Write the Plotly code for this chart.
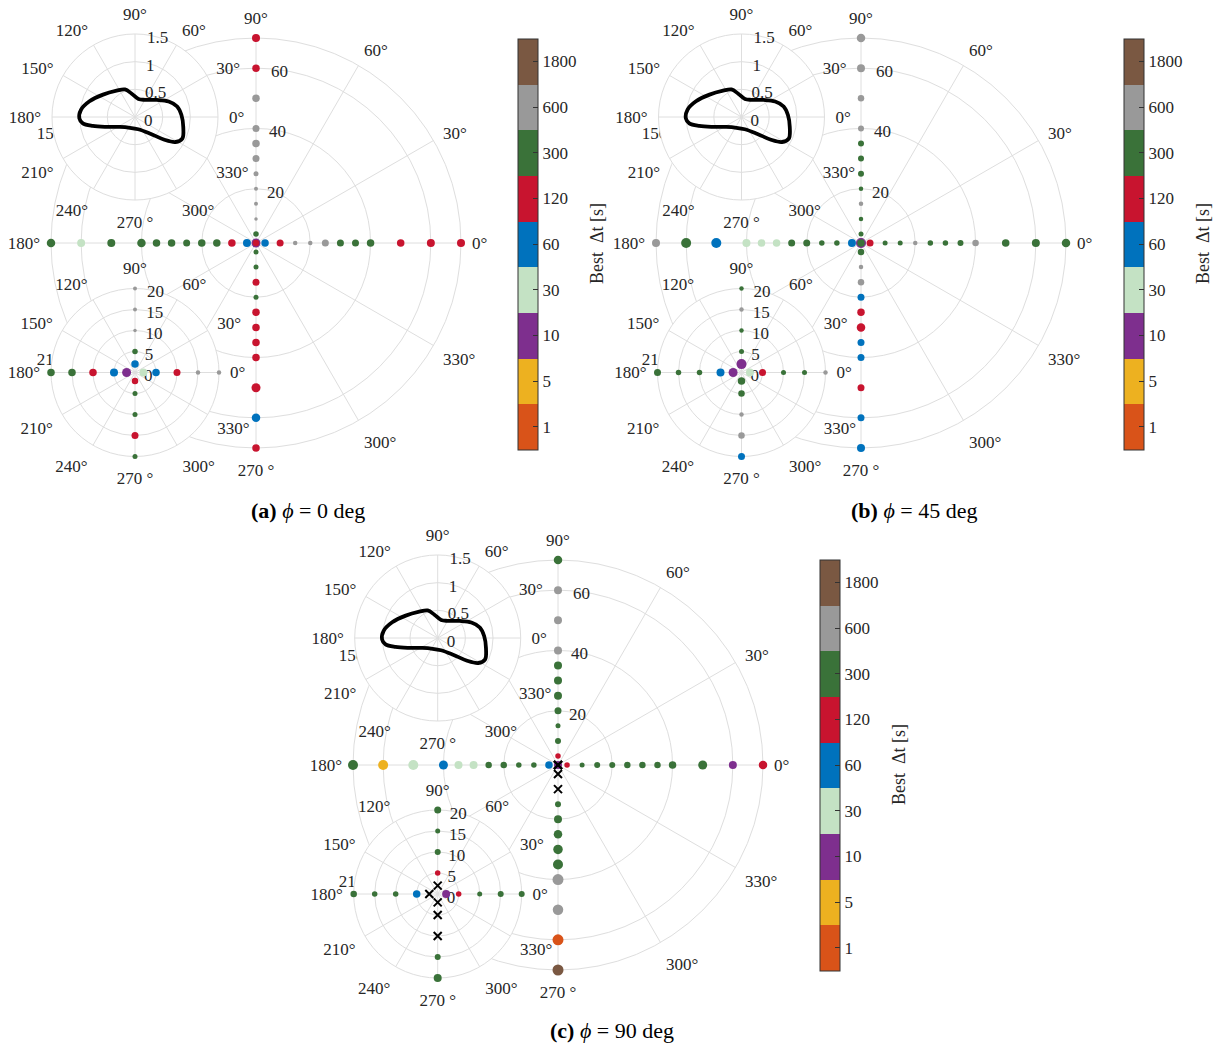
import plotly.graph_objects as go

W, H = 1225, 1046
FONT = "Liberation Serif"
TXT = "#262626"
GRID = "#dedede"

# ---- best time step classes (colour bar) ----
dt_labels = ["1", "5", "10", "30", "60", "120", "300", "600", "1800"]
dt_colors = ["#D95319", "#EDB120", "#7E2F8E", "#C4E2C4", "#0072BD",
             "#C8142F", "#3A7239", "#999999", "#7A5842"]

# radial stations shared by every direction
radii = [2, 5, 10, 15, 20, 25, 30, 35, 40, 50, 60, 70]

# class index per station (None = no successful run, drawn as a cross)
# and marker diameter, for the four directions up/right/left/down
a_up_cls = [4, 6, 7, 7, 7, 7, 7, 7, 7, 7, 5, 5]
a_up_size = [7.5, 5.5, 3.5, 4, 4, 5, 7, 7.5, 7, 7.5, 7.5, 8]
a_right_cls = [3, 4, 5, 7, 7, 7, 6, 6, 6, 5, 5, 5]
a_right_size = [8, 7.5, 7, 4.5, 4.5, 7, 7, 7, 7.5, 7.5, 8, 8]
a_left_cls = [2, 4, 5, 6, 6, 6, 6, 6, 6, 6, 3, 6]
a_left_size = [9, 8, 7.5, 7.5, 7.5, 7, 7.5, 7.5, 8.5, 8, 8, 8.5]
a_down_cls = [5, 6, 6, 5, 6, 5, 5, 5, 5, 5, 4, 5]
a_down_size = [6.5, 5, 5, 7, 5, 7.5, 7.5, 7.5, 7.5, 9, 8.5, 7.5]

b_up_cls = [2, 6, 6, 7, 6, 6, 6, 6, 7, 7, 7, 7]
b_up_size = [10, 5, 4.5, 4.5, 4.5, 6, 6, 6, 6, 6.5, 8, 8.5]
b_right_cls = [3, 5, 6, 6, 7, 6, 6, 6, 7, 6, 6, 6]
b_right_size = [8, 7, 5, 5, 4.5, 5.5, 5.5, 6, 6.5, 7.5, 8, 8.5]
b_left_cls = [2, 4, 6, 6, 6, 6, 3, 3, 3, 4, 6, 7]
b_left_size = [9, 8, 5.5, 5.5, 7, 7, 7.5, 7.5, 8, 10, 10, 8]
b_down_cls = [6, 6, 7, 7, 4, 5, 5, 4, 4, 5, 4, 4]
b_down_size = [7.5, 6.5, 4.5, 6.5, 7, 7.5, 8.5, 7, 7, 7, 7, 8]

c_up_cls = [None, 5, 6, 6, 6, 6, 6, 6, 7, 7, 7, 6]
c_up_size = [0, 5.5, 6, 5, 7, 8, 8, 8, 8, 8, 8, 8.5]
c_right_cls = [2, 5, 6, 6, 6, 6, 6, 6, 6, 6, 2, 5]
c_right_size = [8, 5.5, 5, 6, 6, 6.5, 6.5, 6.5, 7.5, 9, 8, 8.5]
c_left_cls = [None, 4, 6, 6, 6, 6, 3, 3, 4, 3, 1, 6]
c_left_size = [0, 7.5, 5.5, 5.5, 6.5, 6.5, 8, 8, 9, 10, 10, 10]
c_down_cls = [None, None, None, 6, 6, 6, 6, 6, 7, 7, 0, 8]
c_down_size = [0, 0, 0, 6, 8, 8.5, 9.5, 10, 11, 10.5, 11, 11]

# cross-section outline (same for all three cases)
curve_theta = [2.5, 14, 24.7, 38, 59.5, 79, 98, 110, 125, 145, 161, 172.5,
               181.4, 187, 192, 199, 213, 245, 285, 312.6, 322, 328.3, 335.4, 348.5]
curve_r = [0.84, 0.785, 0.67, 0.50, 0.36, 0.33, 0.425, 0.53, 0.58, 0.705, 0.87, 0.985,
           1.006, 0.95, 0.78, 0.55, 0.33, 0.215, 0.23, 0.41, 0.66, 0.86, 0.94, 0.89]

ang_ticks = list(range(0, 360, 30))
ang_text = [("270 °" if a == 270 else f"{a}°") for a in ang_ticks]

directions = [("up", 90), ("right", 0), ("left", 180), ("down", 270)]

panels = {
    "a": dict(cls={"up": a_up_cls, "right": a_right_cls, "left": a_left_cls, "down": a_down_cls},
              size={"up": a_up_size, "right": a_right_size, "left": a_left_size, "down": a_down_size},
              big=(256, 243), top=(135, 117), bot=(135, 372.5), cbar=(517.5, 244), cb_title_x=597,
              caption="<b>(a)</b> <i>ϕ</i> = 0 deg", cap_xy=(308, 510)),
    "b": dict(cls={"up": b_up_cls, "right": b_right_cls, "left": b_left_cls, "down": b_down_cls},
              size={"up": b_up_size, "right": b_right_size, "left": b_left_size, "down": b_down_size},
              big=(861, 243), top=(741.5, 117), bot=(741.5, 372.5), cbar=(1124, 244), cb_title_x=1203,
              caption="<b>(b)</b> <i>ϕ</i> = 45 deg", cap_xy=(914, 510)),
    "c": dict(cls={"up": c_up_cls, "right": c_right_cls, "left": c_left_cls, "down": c_down_cls},
              size={"up": c_up_size, "right": c_right_size, "left": c_left_size, "down": c_down_size},
              big=(558, 765), top=(437.7, 638), bot=(437.7, 894), cbar=(820, 765), cb_title_x=899,
              caption="<b>(c)</b> <i>ϕ</i> = 90 deg", cap_xy=(612, 1030)),
}

R_BIG, R_TOP, R_BOT = 205, 83, 84
R_LABEL_ANGLE = 88  # direction along which the radial tick labels sit

# stepped colour scale, one band per class
n = len(dt_colors)
cscale = []
for k, col in enumerate(dt_colors):
    cscale.append([k / n, col])
    cscale.append([(k + 1) / n, col])


def domain(center, R):
    cx, cy = center
    return dict(x=[(cx - R) / W, (cx + R) / W], y=[1 - (cy + R) / H, 1 - (cy - R) / H])


def polar_layout(center, R, rng, tickvals, ticktext):
    tf = dict(family=FONT, size=17, color=TXT)
    return dict(
        domain=domain(center, R),
        bgcolor="white",
        angularaxis=dict(rotation=0, direction="counterclockwise", tickmode="array",
                         tickvals=ang_ticks, ticktext=ang_text,
                         ticks="outside", ticklen=7, tickcolor="rgba(0,0,0,0)",
                         showline=True, linecolor=GRID, linewidth=1, layer="below traces",
                         showgrid=True, gridcolor=GRID, gridwidth=1, tickfont=tf),
        radialaxis=dict(range=rng, angle=R_LABEL_ANGLE, tickangle=R_LABEL_ANGLE,
                        tickmode="array", tickvals=tickvals, ticktext=ticktext, ticks="",
                        showline=False, showgrid=True, gridcolor=GRID, gridwidth=1,
                        layer="below traces", tickfont=tf),
    )


fig = go.Figure()
layout_polars = {}
annotations = []
pid = 0

for key, p in panels.items():
    ids = []
    for _ in range(3):
        pid += 1
        ids.append("polar" if pid == 1 else f"polar{pid}")
    big_id, top_id, bot_id = ids

    layout_polars[big_id] = polar_layout(p["big"], R_BIG, [2, 70], [20, 40, 60], ["20", "40", "60"])
    layout_polars[top_id] = polar_layout(p["top"], R_TOP, [0, 1.5], [0, 0.5, 1, 1.5], ["0", "0.5", "1", "1.5"])
    layout_polars[bot_id] = polar_layout(p["bot"], R_BOT, [0, 20], [0, 5, 10, 15, 20], ["0", "5", "10", "15", "20"])

    # sampled stations: the big plot shows all of them, the lower inset the inner ones
    for sub, rmax, scale in ((big_id, 70, True), (bot_id, 20, False)):
        th, rr, cc, ss = [], [], [], []
        xth, xr = [], []
        for name, ang in directions:
            for r, c, s in zip(radii, p["cls"][name], p["size"][name]):
                if r > rmax:
                    continue
                if c is None:
                    xth.append(ang)
                    xr.append(r)
                else:
                    th.append(ang)
                    rr.append(r)
                    cc.append(c)
                    ss.append(s)
        cb = None
        if scale:
            cbx, cby = p["cbar"]
            cb = dict(x=cbx / W, xanchor="left", xpad=0, ypad=0,
                      y=1 - cby / H, yanchor="middle",
                      len=411, lenmode="pixels", thickness=20, thicknessmode="pixels",
                      tickmode="array", tickvals=list(range(n)), ticktext=dt_labels,
                      ticks="inside", ticklen=5, tickcolor="#333", tickwidth=1,
                      outlinewidth=1, outlinecolor="#333",
                      tickfont=dict(family=FONT, size=17, color=TXT))
        fig.add_trace(go.Scatterpolar(
            r=rr, theta=th, mode="markers", subplot=sub, cliponaxis=False,
            marker=dict(color=cc, size=ss, colorscale=cscale, cmin=-0.5, cmax=n - 0.5,
                        opacity=1, showscale=scale, colorbar=cb, line=dict(width=0)),
            showlegend=False, hoverinfo="skip"))
        if xr:
            fig.add_trace(go.Scatterpolar(
                r=xr, theta=xth, mode="markers", subplot=sub, cliponaxis=False,
                marker=dict(symbol="x-thin", size=8, opacity=1,
                            line=dict(color="black", width=2)),
                showlegend=False, hoverinfo="skip"))

    # body outline in the upper inset
    fig.add_trace(go.Scatterpolar(
        r=curve_r + curve_r[:1], theta=curve_theta + curve_theta[:1],
        mode="lines", subplot=top_id, cliponaxis=False,
        line=dict(color="black", width=3.8, shape="spline"),
        showlegend=False, hoverinfo="skip"))

    # colour bar title
    cbx, cby = p["cbar"]
    annotations.append(dict(text="Best  Δt [s]", x=p["cb_title_x"] / W, y=1 - cby / H,
                            xref="paper", yref="paper", xanchor="center", yanchor="middle",
                            textangle=-90, showarrow=False,
                            font=dict(family=FONT, size=18, color=TXT)))

    cx, cy = p["cap_xy"]
    annotations.append(dict(text=p["caption"], x=cx / W, y=1 - cy / H, xref="paper", yref="paper",
                            xanchor="center", yanchor="middle", showarrow=False,
                            font=dict(family=FONT, size=22, color="black")))

fig.update_layout(width=W, height=H, margin=dict(l=0, r=0, t=0, b=0),
                  paper_bgcolor="white", plot_bgcolor="white",
                  annotations=annotations, **layout_polars)

fig.write_html("out.html")
